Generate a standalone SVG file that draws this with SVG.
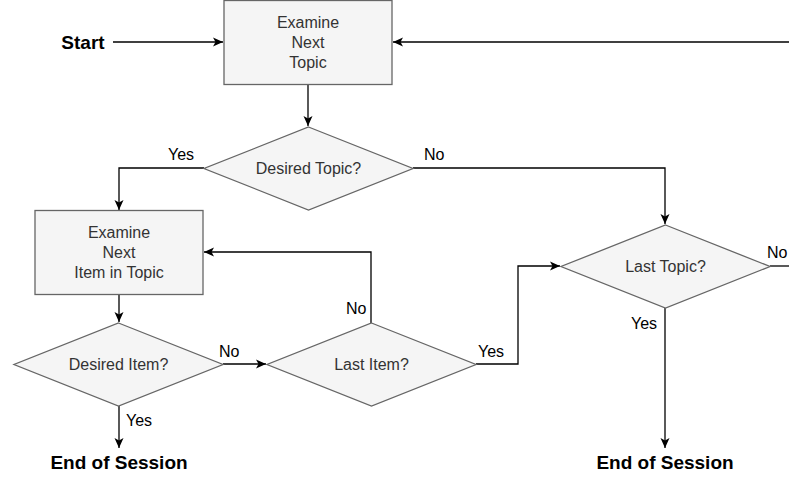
<svg xmlns="http://www.w3.org/2000/svg" width="789" height="478" viewBox="0 0 789 478">
<style>
.box{fill:#f5f5f5;stroke:#666666;stroke-width:1.3}
.nt{font-family:"Liberation Sans",Arial,sans-serif;font-size:16px;fill:#333333;text-anchor:middle}
.lb{font-family:"Liberation Sans",Arial,sans-serif;font-size:16px;fill:#000000}
.bt{font-family:"Liberation Sans",Arial,sans-serif;font-size:19px;font-weight:bold;fill:#000000;text-anchor:middle}
.edge{fill:none;stroke:#000000;stroke-width:1.3}
</style>
<defs>
<marker id="arr" markerUnits="userSpaceOnUse" markerWidth="12" markerHeight="12" viewBox="0 0 12 12" refX="11" refY="6" orient="auto">
<path d="M1,1.5 L11,6 L1,10.5 L3.5,6 Z" fill="#000000"/>
</marker>
</defs>
<g id="connectors">
<path class="edge" d="M113,42 L223,42" marker-end="url(#arr)"/>
<path class="edge" d="M789,42 L393,42" marker-end="url(#arr)"/>
<path class="edge" d="M308,84 L308,126" marker-end="url(#arr)"/>
<path class="edge" d="M204,168 L119,168 L119,210" marker-end="url(#arr)"/>
<path class="edge" d="M413,168 L665,168 L665,224" marker-end="url(#arr)"/>
<path class="edge" d="M770,266 L789,266"/>
<path class="edge" d="M119,294 L119,322" marker-end="url(#arr)"/>
<path class="edge" d="M223,364 L266,364" marker-end="url(#arr)"/>
<path class="edge" d="M371,323 L371,252 L204,252" marker-end="url(#arr)"/>
<path class="edge" d="M476,364 L518,364 L518,266 L560,266" marker-end="url(#arr)"/>
<path class="edge" d="M119,406 L119,448" marker-end="url(#arr)"/>
<path class="edge" d="M665,308 L665,448" marker-end="url(#arr)"/>
<text class="lb" x="168" y="160">Yes</text>
<text class="lb" x="424" y="160">No</text>
<text class="lb" x="767" y="258">No</text>
<text class="lb" x="631" y="329">Yes</text>
<text class="lb" x="478" y="357">Yes</text>
<text class="lb" x="219" y="357">No</text>
<text class="lb" x="126" y="426">Yes</text>
<text class="lb" x="346" y="314">No</text>
</g>
<g id="start"><text class="bt" x="83" y="49">Start</text></g>
<g id="examineTopic">
<rect class="box" x="224" y="0.5" width="168" height="84"/>
<text class="nt" x="308" y="28">Examine</text>
<text class="nt" x="308" y="48">Next</text>
<text class="nt" x="308" y="68">Topic</text>
</g>
<g id="desiredTopic">
<polygon class="box" points="308.5,127 413,168.5 308.5,210 204,168.5"/>
<text class="nt" x="308.5" y="174">Desired Topic?</text>
</g>
<g id="lastTopic">
<polygon class="box" points="665.5,225 770,266.5 665.5,308 561,266.5"/>
<text class="nt" x="665.5" y="272">Last Topic?</text>
</g>
<g id="examineItem">
<rect class="box" x="35" y="210.5" width="168" height="84"/>
<text class="nt" x="119" y="238">Examine</text>
<text class="nt" x="119" y="258">Next</text>
<text class="nt" x="119" y="278">Item in Topic</text>
</g>
<g id="desiredItem">
<polygon class="box" points="118.5,323 223,364.5 118.5,406 14,364.5"/>
<text class="nt" x="118.5" y="370">Desired Item?</text>
</g>
<g id="lastItem">
<polygon class="box" points="371.5,323 476,364.5 371.5,406 267,364.5"/>
<text class="nt" x="371.5" y="370">Last Item?</text>
</g>
<g id="end1"><text class="bt" x="119" y="469">End of Session</text></g>
<g id="end2"><text class="bt" x="665" y="469">End of Session</text></g>
</svg>
